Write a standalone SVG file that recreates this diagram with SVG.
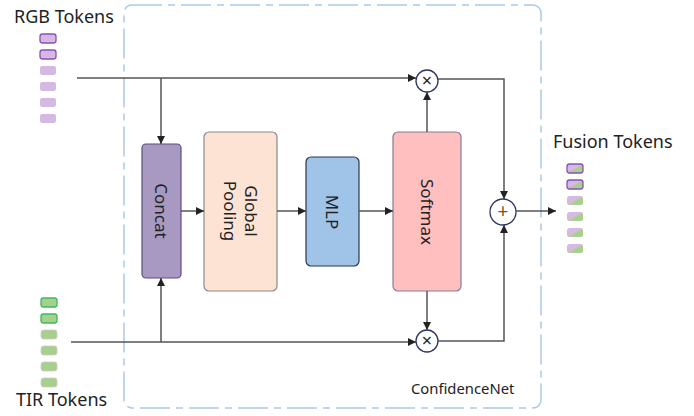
<svg xmlns="http://www.w3.org/2000/svg" width="694" height="416" viewBox="0 0 694 416">
<defs>
<marker id="ah" viewBox="0 0 10 10" refX="10" refY="5" markerWidth="8" markerHeight="8" markerUnits="userSpaceOnUse" orient="auto">
<path d="M0,0 L10,5 L0,10 z" fill="#222"/>
</marker>
<linearGradient id="fg" x1="0" y1="0" x2="1" y2="1">
<stop offset="0" stop-color="#d5b9e3"/>
<stop offset="0.48" stop-color="#d5b9e3"/>
<stop offset="0.55" stop-color="#a8d08d"/>
<stop offset="1" stop-color="#a8d08d"/>
</linearGradient>
<style>
text{font-family:"Noto Sans","Open Sans","DejaVu Sans",sans-serif;fill:#222}
.lbl{font-size:18px}
.box{stroke-width:1.2}
.bt{font-size:17px;text-anchor:middle;dominant-baseline:central}
.c{fill:none;stroke:#555;stroke-width:1.5}
.a{marker-end:url(#ah)}
.rgb{fill:#d5b9e3}
.tir{fill:#a8d08d}
.fus{fill:url(#fg)}
.op{fill:#fff;stroke:#2d3560;stroke-width:1.3}
.sym{text-anchor:middle;dominant-baseline:central}
</style>
</defs>
<g id="confidencenet">
<rect x="124" y="5" width="417" height="403" rx="8" fill="none" stroke="#a9c9ec" stroke-width="1.5" stroke-dasharray="30 6 7 6"/>
<text x="411" y="394" style="font-size:14.8px">ConfidenceNet</text>
</g>
<g id="rgb-tokens">
<text class="lbl" x="14" y="23">RGB Tokens</text>
<rect class="rgb" x="40" y="34" width="16" height="9" rx="2.5" stroke="#8d4fb5" stroke-width="1.3"/>
<rect class="rgb" x="40" y="50" width="16" height="9" rx="2.5" stroke="#8d4fb5" stroke-width="1.3"/>
<rect class="rgb" x="40" y="66" width="16" height="9" rx="2.5"/>
<rect class="rgb" x="40" y="82" width="16" height="9" rx="2.5"/>
<rect class="rgb" x="40" y="98" width="16" height="9" rx="2.5"/>
<rect class="rgb" x="40" y="114" width="16" height="9" rx="2.5"/>
</g>
<g id="tir-tokens">
<text class="lbl" x="16" y="406">TIR Tokens</text>
<rect class="tir" x="41" y="298" width="16" height="9" rx="2.5" stroke="#3cb95a" stroke-width="1.3"/>
<rect class="tir" x="41" y="314" width="16" height="9" rx="2.5" stroke="#3cb95a" stroke-width="1.3"/>
<rect class="tir" x="41" y="330" width="16" height="9" rx="2.5" stroke="#ccc" stroke-width="0.8"/>
<rect class="tir" x="41" y="346" width="16" height="9" rx="2.5" stroke="#ccc" stroke-width="0.8"/>
<rect class="tir" x="41" y="362" width="16" height="9" rx="2.5" stroke="#ccc" stroke-width="0.8"/>
<rect class="tir" x="41" y="378" width="16" height="9" rx="2.5" stroke="#ccc" stroke-width="0.8"/>
</g>
<g id="fusion-tokens">
<text class="lbl" x="553" y="148">Fusion Tokens</text>
<rect class="fus" x="567" y="164" width="16" height="9" rx="2.5" stroke="#8d4fb5" stroke-width="1.3"/>
<rect class="fus" x="567" y="180" width="16" height="9" rx="2.5" stroke="#8d4fb5" stroke-width="1.3"/>
<rect class="fus" x="567" y="196" width="16" height="9" rx="2.5"/>
<rect class="fus" x="567" y="212" width="16" height="9" rx="2.5"/>
<rect class="fus" x="567" y="228" width="16" height="9" rx="2.5"/>
<rect class="fus" x="567" y="244" width="16" height="9" rx="2.5"/>
</g>
<g id="concat">
<rect class="box" x="142" y="144" width="39" height="134" rx="4" fill="#a899c2" stroke="#5b4d80"/>
<text class="bt" transform="translate(161.5,211) rotate(90)">Concat</text>
</g>
<g id="global-pooling">
<rect class="box" x="204" y="132" width="73" height="159" rx="5" fill="#fde3d4" stroke="#8a8a8a"/>
<text class="bt" transform="translate(251,211) rotate(90)">Global</text>
<text class="bt" transform="translate(230,211) rotate(90)">Pooling</text>
</g>
<g id="mlp">
<rect class="box" x="306" y="157" width="53" height="109" rx="5" fill="#9fc4e8" stroke="#2a3550"/>
<text class="bt" transform="translate(332.5,212) rotate(90)">MLP</text>
</g>
<g id="softmax">
<rect class="box" x="393" y="132" width="68" height="159" rx="5" fill="#ffbfbf" stroke="#8a7a9a"/>
<text class="bt" transform="translate(427,212) rotate(90)">Softmax</text>
</g>
<g id="mul-top">
<circle class="op" cx="427" cy="81" r="11"/>
<text class="sym" x="427" y="80" style="font-size:18px">×</text>
</g>
<g id="mul-bottom">
<circle class="op" cx="427" cy="341" r="11"/>
<text class="sym" x="427" y="340" style="font-size:18px">×</text>
</g>
<g id="add">
<circle class="op" cx="503" cy="212" r="13"/>
<text class="sym" x="503" y="211" style="font-size:19px;fill:#7a5020">+</text>
</g>
<g id="connectors">
<line class="c a" x1="77" y1="78" x2="416" y2="78"/>
<line class="c a" x1="161" y1="78" x2="161" y2="144"/>
<line class="c a" x1="71" y1="342" x2="416" y2="342"/>
<line class="c a" x1="161" y1="342" x2="161" y2="278"/>
<line class="c a" x1="181" y1="211" x2="204" y2="211"/>
<line class="c a" x1="277" y1="211" x2="306" y2="211"/>
<line class="c a" x1="359" y1="211" x2="393" y2="211"/>
<line class="c a" x1="427" y1="132" x2="427" y2="92"/>
<line class="c a" x1="427" y1="291" x2="427" y2="330"/>
<polyline class="c a" points="438,79 504,79 504,199"/>
<polyline class="c a" points="438,341 504,341 504,225"/>
<line class="c a" x1="516" y1="211" x2="556" y2="211"/>
</g>
</svg>
